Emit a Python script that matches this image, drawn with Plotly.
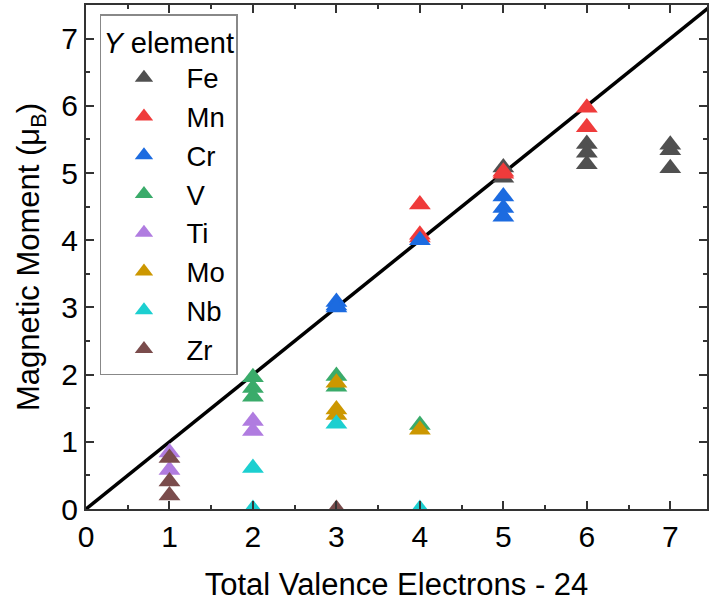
import plotly.graph_objects as go

# Data
elements = ["Fe", "Mn", "Cr", "V", "Ti", "Mo", "Nb", "Zr"]
colors = ["#505050", "#ef3b3b", "#1c6be0", "#3aab6a", "#b07ce0", "#cc9700", "#1ccfd0", "#7a4c4c"]

fe_x = [5, 5, 6, 6, 6, 7, 7, 7]
fe_y = [5.08, 4.93, 5.43, 5.30, 5.13, 5.42, 5.34, 5.07]
mn_x = [4, 4, 4, 5, 5, 6, 6]
mn_y = [4.53, 4.08, 4.04, 5.02, 4.99, 5.97, 5.68]
cr_x = [3, 3, 3, 4, 5, 5, 5]
cr_y = [3.08, 3.03, 3.00, 4.00, 4.65, 4.48, 4.35]
v_x = [2, 2, 2, 3, 3, 4]
v_y = [1.96, 1.80, 1.67, 1.98, 1.82, 1.25]
ti_x = [1, 1, 2, 2]
ti_y = [0.84, 0.58, 1.31, 1.16]
mo_x = [3, 3, 3, 4]
mo_y = [1.88, 1.48, 1.40, 1.18]
nb_x = [2, 2, 3, 4]
nb_y = [0.61, 0.0, 1.27, 0.0]
zr_x = [1, 1, 1, 3]
zr_y = [0.76, 0.41, 0.20, 0.0]

series_x = [fe_x, mn_x, cr_x, v_x, ti_x, mo_x, nb_x, zr_x]
series_y = [fe_y, mn_y, cr_y, v_y, ti_y, mo_y, nb_y, zr_y]

line_x = [0, 7.5]
line_y = [0, 7.5]

x_ticks = [0, 1, 2, 3, 4, 5, 6, 7]
y_ticks = [0, 1, 2, 3, 4, 5, 6, 7]

FONT = "Liberation Sans, Arial, sans-serif"

fig = go.Figure()
fig.add_trace(go.Scatter(x=line_x, y=line_y, mode="lines",
                         line=dict(color="black", width=3.5),
                         showlegend=False, hoverinfo="skip"))
for name, c, xs, ys in zip(elements, colors, series_x, series_y):
    fig.add_trace(go.Scatter(x=xs, y=ys, mode="markers", name=name,
                             marker=dict(symbol="triangle-up", size=19, color=c,
                                         line=dict(width=0))))

axis_common = dict(
    showgrid=False, zeroline=False,
    showline=True, linecolor="#333333", linewidth=2, mirror="ticks",
    ticks="inside", ticklen=8, tickwidth=1.5, tickcolor="#333333",
    tickfont=dict(family=FONT, size=30, color="black"),
    minor=dict(ticks="inside", ticklen=4, tickwidth=1.5, tickcolor="#333333", dtick=0.5),
)

fig.update_layout(
    width=709, height=603,
    margin=dict(l=86, r=0, t=5, b=94),
    paper_bgcolor="white", plot_bgcolor="white",
    font=dict(family=FONT, color="black"),
    xaxis=dict(range=[0, 7.44], tickvals=x_ticks, ticktext=[str(v) for v in x_ticks],
               title=dict(text="Total Valence Electrons - 24",
                          font=dict(family=FONT, size=31, color="black"), standoff=21),
               **axis_common),
    yaxis=dict(range=[0, 7.5], tickvals=y_ticks, ticktext=[str(v) for v in y_ticks],
               title=dict(text="Magnetic Moment (μ<sub>B</sub>)",
                          font=dict(family=FONT, size=31, color="black"), standoff=12),
               **axis_common),
    legend=dict(x=0.0225, y=0.982, xanchor="left", yanchor="top",
                bgcolor="white", bordercolor="#888888", borderwidth=1.5,
                font=dict(family=FONT, size=27.5, color="black"),
                title=dict(text="<i>Y</i> element", font=dict(family=FONT, size=29, color="black")),
                itemwidth=75, tracegroupgap=0),
)

fig.write_html("out.html")
